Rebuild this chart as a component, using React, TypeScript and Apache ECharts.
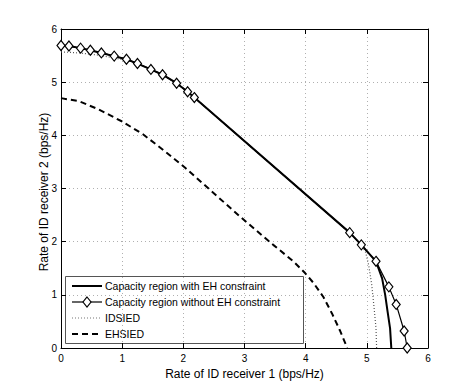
import React, { useEffect, useRef } from "react";
import * as echarts from "echarts";

const seriesNames = [
  "Capacity region with EH constraint",
  "Capacity region without EH constraint",
  "IDSIED",
  "EHSIED",
];

const xAxisTitle = "Rate of ID receiver 1 (bps/Hz)";
const yAxisTitle = "Rate of ID receiver 2 (bps/Hz)";

// Capacity region without EH constraint (diamond markers)
const noEhX = [0, 0.13, 0.32, 0.48, 0.66, 0.87, 1.07, 1.25, 1.47, 1.66, 1.89, 2.07, 2.18, 4.72, 4.91, 5.15, 5.36, 5.48, 5.61, 5.66];
const noEhY = [5.69, 5.68, 5.64, 5.6, 5.55, 5.49, 5.43, 5.35, 5.24, 5.14, 4.98, 4.82, 4.71, 2.17, 1.94, 1.63, 1.15, 0.82, 0.32, 0];

// Capacity region with EH constraint
const withEhX = [0, 0.13, 0.32, 0.48, 0.66, 0.87, 1.07, 1.25, 1.47, 1.66, 1.89, 2.07, 2.18, 4.72, 4.91, 5.15, 5.25, 5.3, 5.34, 5.38, 5.4];
const withEhY = [5.69, 5.68, 5.64, 5.6, 5.55, 5.49, 5.43, 5.35, 5.24, 5.14, 4.98, 4.82, 4.71, 2.17, 1.94, 1.63, 1.31, 1.0, 0.68, 0.37, 0];

// IDSIED
const idX = [0, 0.3, 0.6, 0.9, 1.2, 1.47, 1.66, 1.89, 2.07, 2.18, 4.72, 4.91, 4.98, 5.03, 5.08, 5.12, 5.15, 5.16];
const idY = [5.57, 5.55, 5.51, 5.45, 5.37, 5.24, 5.14, 4.98, 4.82, 4.71, 2.17, 1.94, 1.8, 1.56, 1.19, 0.74, 0.37, 0];

// EHSIED
const ehX = [0, 0.3, 0.61, 1.0, 1.34, 1.7, 2.03, 2.43, 2.95, 3.47, 3.8, 3.99, 4.13, 4.29, 4.43, 4.56, 4.68];
const ehY = [4.7, 4.64, 4.49, 4.26, 4.02, 3.7, 3.39, 2.98, 2.45, 1.94, 1.63, 1.41, 1.22, 0.96, 0.65, 0.33, 0];

const zip = (xs: number[], ys: number[]) => xs.map((x, i) => [x, ys[i]]);

const FONT = "'Liberation Sans', Arial, Helvetica, sans-serif";

// legend styles (index matches seriesNames)
const legendLineStyles: any[] = [
  { stroke: "#000", lineWidth: 2 },
  { stroke: "#000", lineWidth: 1.2 },
  { stroke: "#777", lineWidth: 1.2, lineDash: [1, 2] },
  { stroke: "#000", lineWidth: 2, lineDash: [6, 4] },
];

function buildLegend() {
  const left = 65;
  const top = 276;
  const w = 238;
  const h = 67;
  const rowH = 16;
  const firstRow = top + 10;
  const children: any[] = [
    {
      type: "rect",
      shape: { x: left + 0.5, y: top + 0.5, width: w, height: h },
      style: { fill: "#fff", stroke: "#555", lineWidth: 1 },
    },
  ];
  seriesNames.forEach((name, i) => {
    const cy = firstRow + i * rowH;
    children.push({
      type: "line",
      shape: { x1: left + 7, y1: cy, x2: left + 37, y2: cy },
      style: { ...legendLineStyles[i], fill: null },
    });
    if (i === 1) {
      const cx = left + 22;
      children.push({
        type: "polygon",
        shape: { points: [[cx, cy - 5], [cx + 4, cy], [cx, cy + 5], [cx - 4, cy]] },
        style: { fill: "#fff", stroke: "#000", lineWidth: 1.2 },
      });
    }
    children.push({
      type: "text",
      x: left + 40,
      y: cy,
      style: {
        text: name,
        fill: "#000",
        font: `10.5px ${FONT}`,
        verticalAlign: "middle",
        align: "left",
      },
    });
  });
  return [
    { type: "group", z: 100, children },
    {
      type: "text",
      x: 44,
      y: 192,
      rotation: Math.PI / 2,
      style: {
        text: yAxisTitle,
        fill: "#000",
        font: `12px ${FONT}`,
        align: "center",
        verticalAlign: "middle",
      },
    },
  ];
}

export default function App() {
  const ref = useRef<HTMLDivElement>(null);
  useEffect(() => {
    if (!ref.current) return;
    const chart = echarts.init(ref.current, undefined, { renderer: "svg" });
    const axisCommon = {
      type: "value" as const,
      min: 0,
      max: 6,
      interval: 1,
      axisLine: { show: true, onZero: false, lineStyle: { color: "#000", width: 1 } },
      axisTick: { show: true, inside: true, length: 5, lineStyle: { color: "#000" } },
    };
    chart.setOption({
      animation: false,
      backgroundColor: "#fff",
      textStyle: { fontFamily: FONT },
      grid: { left: 61, right: 44, top: 29, bottom: 44, containLabel: false },
      graphic: buildLegend(),
      xAxis: [
        {
          ...axisCommon,
          position: "bottom",
          name: xAxisTitle,
          nameLocation: "middle",
          nameGap: 14,
          nameTextStyle: { fontSize: 12, color: "#000", fontFamily: FONT },
          axisLabel: { show: true, margin: 5, fontSize: 10, color: "#000", fontFamily: FONT },
          splitLine: { show: true, lineStyle: { color: "#b0b0b0", type: [1, 3], width: 1 } },
        },
        {
          ...axisCommon,
          position: "top",
          axisLabel: { show: false },
          splitLine: { show: false },
        },
      ],
      yAxis: [
        {
          ...axisCommon,
          position: "left",
          axisLabel: { show: true, margin: 4, fontSize: 10, color: "#000", fontFamily: FONT },
          splitLine: { show: true, lineStyle: { color: "#b0b0b0", type: [1, 3], width: 1 } },
        },
        {
          ...axisCommon,
          position: "right",
          axisLabel: { show: false },
          splitLine: { show: false },
        },
      ],
      series: [
        {
          name: seriesNames[2],
          type: "line",
          data: zip(idX, idY),
          showSymbol: false,
          symbol: "none",
          lineStyle: { color: "#555", width: 1.2, type: [1, 2] },
          z: 2,
        },
        {
          name: seriesNames[3],
          type: "line",
          data: zip(ehX, ehY),
          showSymbol: false,
          symbol: "none",
          lineStyle: { color: "#000", width: 2, type: [6, 4] },
          z: 2,
        },
        {
          name: seriesNames[0],
          type: "line",
          data: zip(withEhX, withEhY),
          showSymbol: false,
          symbol: "none",
          lineStyle: { color: "#000", width: 2 },
          z: 3,
        },
        {
          name: seriesNames[1],
          type: "line",
          data: zip(noEhX, noEhY),
          symbol: "diamond",
          symbolSize: [8, 10],
          showSymbol: true,
          lineStyle: { color: "#000", width: 1.2 },
          itemStyle: { color: "#fff", borderColor: "#000", borderWidth: 1.2 },
          z: 4,
        },
      ],
    });
    return () => chart.dispose();
  }, []);
  return (
    <div
      ref={ref}
      style={{ position: "fixed", left: 0, top: 0, width: 472, height: 392, background: "#fff" }}
    />
  );
}
